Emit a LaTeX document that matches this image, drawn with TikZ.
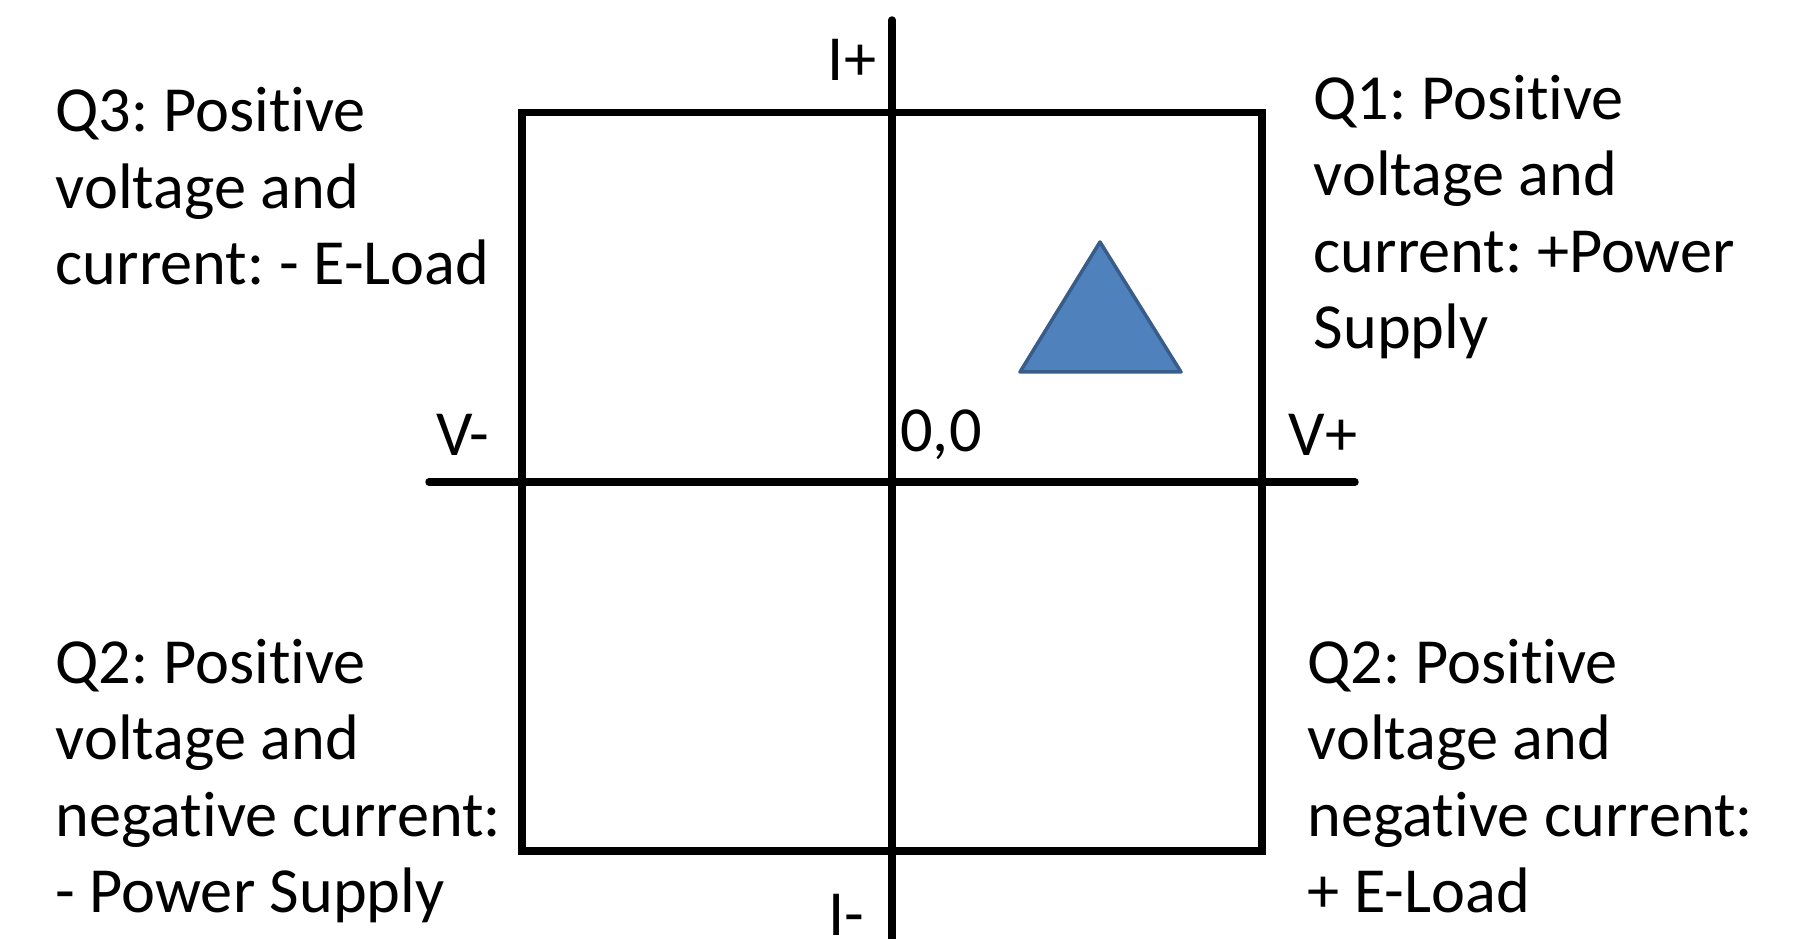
\documentclass[tikz,border=0pt]{standalone}
\usepackage{fontspec}
\setmainfont{Carlito}[Ligatures=NoCommon]
\usepackage{xcolor}
\usetikzlibrary{positioning,calc}
\definecolor{axisline}{RGB}{0,0,0}
\definecolor{markfill}{RGB}{79,129,189}
\definecolor{markedge}{RGB}{56,93,138}
\frenchspacing

\begin{document}
\begin{tikzpicture}[
  font=\fontsize{18.3pt}{21.8pt}\selectfont,
  axis/.style={draw=axisline, line width=2.1pt, line cap=round},
  frame/.style={draw=axisline, line width=2pt},
  quadtext/.style={anchor=base west, align=left, inner sep=0pt},
  axislabel/.style={inner sep=0pt}
]
\useasboundingbox (-8.92,-4.57) rectangle (9.01,4.82);

% =========================================================
% Quadrant frame and the two axes (origin at 0,0)
% =========================================================
\coordinate (orig) at (0,0);
\coordinate (vleft)  at (-4.63,0);
\coordinate (vright) at (4.63,0);
\coordinate (itop)   at (0,4.62);
\coordinate (ibot)   at (0,-4.80);

\draw[frame] (-3.70,-3.69) rectangle (3.70,3.69);
\draw[axis] (vleft) -- (vright);
\draw[axis] (itop) -- (ibot);

% axis labels
\node[axislabel] (iplus)  at (-0.40,4.22)  {I+};
\node[axislabel] (iminus) at (-0.46,-4.33) {I-};
\node[axislabel] (vminus) at (-4.29,0.47)  {V-};
\node[axislabel] (vplus)  at (4.31,0.47)   {V+};
\node[axislabel] (zero)   at (0.49,0.47)   {0,0};

% operating point marker
\coordinate (tapex) at (2.08,2.40);
\coordinate (tleft) at (1.28,1.10);
\coordinate (tright) at (2.89,1.10);
\draw[fill=markfill, draw=markedge, line width=1pt, line join=round]
  (tleft) -- (tapex) -- (tright) -- cycle;

% =========================================================
% Quadrant descriptions (base = baseline of the last line)
% =========================================================
\node[quadtext] (q3) at (-8.37,1.97)
  {Q3: Positive\\voltage and\\current: - E-Load};
\node[quadtext] (q1) at (4.21,1.33)
  {Q1: Positive\\voltage and\\current: +Power\\Supply};
\node[quadtext] (q2l) at (-8.37,-4.31)
  {Q2: Positive\\voltage and\\negative current:\\- Power Supply};
\node[quadtext] (q2r) at (4.15,-4.31)
  {Q2: Positive\\voltage and\\negative current:\\+ E-Load};

\end{tikzpicture}
\end{document}
